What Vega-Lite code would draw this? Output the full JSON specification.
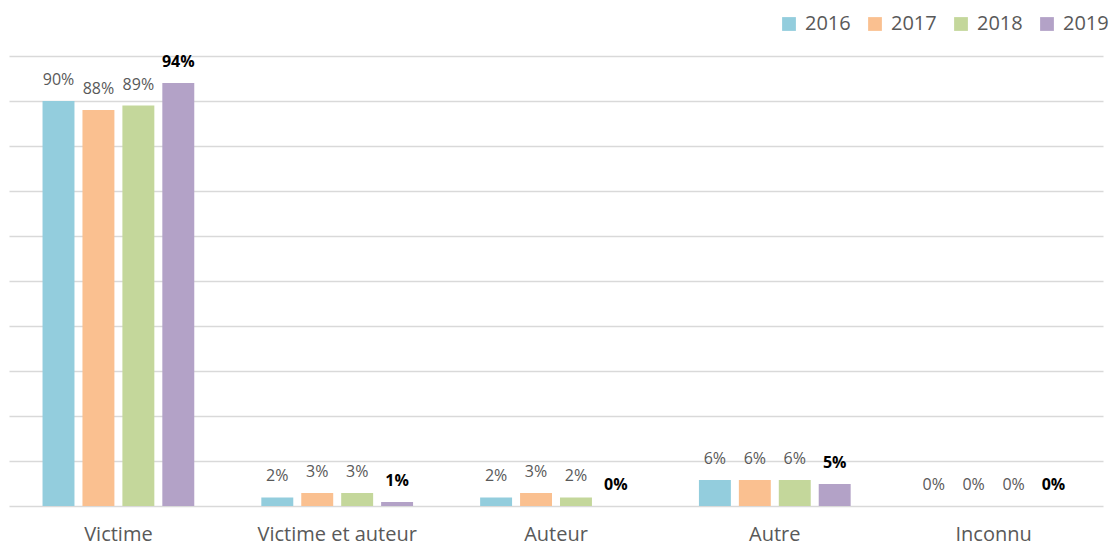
{
  "$schema": "https://vega.github.io/schema/vega-lite/v6.json",
  "autosize": {"type": "none"},
  "padding": {"left": 9, "top": 56, "right": 9, "bottom": 42},
  "width": 1094,
  "height": 450,
  "background": "white",
  "config": {
    "font": "Open Sans",
    "view": {"stroke": null}
  },
  "data": {
    "values": [
      {"cat": "Victime", "year": "2016", "value": 0.90},
      {"cat": "Victime", "year": "2017", "value": 0.88},
      {"cat": "Victime", "year": "2018", "value": 0.89},
      {"cat": "Victime", "year": "2019", "value": 0.94},
      {"cat": "Victime et auteur", "year": "2016", "value": 0.019},
      {"cat": "Victime et auteur", "year": "2017", "value": 0.029},
      {"cat": "Victime et auteur", "year": "2018", "value": 0.029},
      {"cat": "Victime et auteur", "year": "2019", "value": 0.009},
      {"cat": "Auteur", "year": "2016", "value": 0.019},
      {"cat": "Auteur", "year": "2017", "value": 0.029},
      {"cat": "Auteur", "year": "2018", "value": 0.019},
      {"cat": "Auteur", "year": "2019", "value": 0.0},
      {"cat": "Autre", "year": "2016", "value": 0.058},
      {"cat": "Autre", "year": "2017", "value": 0.058},
      {"cat": "Autre", "year": "2018", "value": 0.058},
      {"cat": "Autre", "year": "2019", "value": 0.049},
      {"cat": "Inconnu", "year": "2016", "value": 0.0},
      {"cat": "Inconnu", "year": "2017", "value": 0.0},
      {"cat": "Inconnu", "year": "2018", "value": 0.0},
      {"cat": "Inconnu", "year": "2019", "value": 0.0}
    ]
  },
  "encoding": {
    "x": {
      "field": "cat",
      "type": "nominal",
      "sort": ["Victime", "Victime et auteur", "Auteur", "Autre", "Inconnu"],
      "scale": {"paddingInner": 0.27, "paddingOuter": 0.135},
      "axis": {
        "title": null,
        "labelAngle": 0,
        "labelFontSize": 20,
        "labelColor": "#595959",
        "labelPadding": 18,
        "ticks": false,
        "domain": false
      }
    },
    "xOffset": {
      "field": "year",
      "type": "nominal",
      "scale": {"paddingInner": 0.2, "paddingOuter": 0.1}
    },
    "y": {
      "field": "value",
      "type": "quantitative",
      "scale": {"domain": [0, 1], "nice": false},
      "axis": {
        "title": null,
        "labels": false,
        "ticks": false,
        "domain": false,
        "values": [0, 0.1, 0.2, 0.3, 0.4, 0.5, 0.6, 0.7, 0.8, 0.9, 1.0],
        "grid": true,
        "gridColor": "#d9d9d9",
        "gridWidth": 1.5
      }
    }
  },
  "layer": [
    {
      "mark": {"type": "bar"},
      "encoding": {
        "color": {
          "field": "year",
          "type": "nominal",
          "scale": {
            "domain": ["2016", "2017", "2018", "2019"],
            "range": ["#93CDDD", "#FAC090", "#C4D79B", "#B3A2C7"]
          },
          "legend": {
            "title": null,
            "orient": "none",
            "direction": "horizontal",
            "legendX": 765,
            "legendY": -47,
            "padding": 5,
            "symbolType": "square",
            "symbolSize": 190,
            "symbolStrokeWidth": 0,
            "labelFontSize": 20,
            "labelColor": "#595959",
            "labelOffset": 6,
            "columnPadding": 14
          }
        }
      }
    },
    {
      "transform": [{"filter": "datum.year != '2019'"}],
      "mark": {"type": "text", "baseline": "middle", "dy": -21, "fontSize": 16, "color": "#595959"},
      "encoding": {
        "text": {"field": "value", "type": "quantitative", "format": ".0%"}
      }
    },
    {
      "transform": [{"filter": "datum.year == '2019'"}],
      "mark": {"type": "text", "baseline": "middle", "dy": -21, "fontSize": 16, "fontWeight": "bold", "color": "#000000"},
      "encoding": {
        "text": {"field": "value", "type": "quantitative", "format": ".0%"}
      }
    }
  ]
}
